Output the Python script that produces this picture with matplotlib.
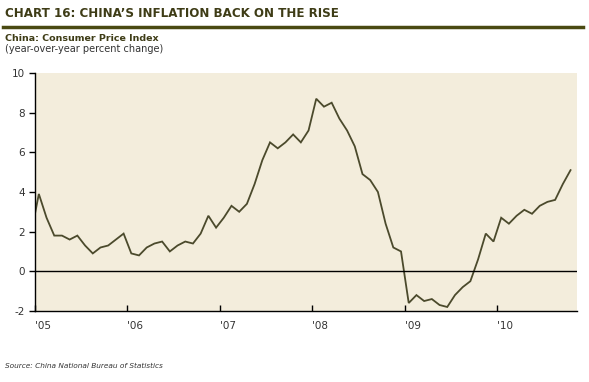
import numpy as np
import matplotlib.pyplot as plt

# China CPI, year-over-year % change, monthly Jan 2005 - Nov 2010
cpi_2005 = [1.9, 3.9, 2.7, 1.8, 1.8, 1.6, 1.8, 1.3, 0.9, 1.2, 1.3, 1.6]
cpi_2006 = [1.9, 0.9, 0.8, 1.2, 1.4, 1.5, 1.0, 1.3, 1.5, 1.4, 1.9, 2.8]
cpi_2007 = [2.2, 2.7, 3.3, 3.0, 3.4, 4.4, 5.6, 6.5, 6.2, 6.5, 6.9, 6.5]
cpi_2008 = [7.1, 8.7, 8.3, 8.5, 7.7, 7.1, 6.3, 4.9, 4.6, 4.0, 2.4, 1.2]
cpi_2009 = [1.0, -1.6, -1.2, -1.5, -1.4, -1.7, -1.8, -1.2, -0.8, -0.5, 0.6, 1.9]
cpi_2010 = [1.5, 2.7, 2.4, 2.8, 3.1, 2.9, 3.3, 3.5, 3.6, 4.4, 5.1]

years = [2005, 2006, 2007, 2008, 2009, 2010]
year_labels = ["'05", "'06", "'07", "'08", "'09", "'10"]
y_ticks = [-2, 0, 2, 4, 6, 8, 10]

cpi = np.array(cpi_2005 + cpi_2006 + cpi_2007 + cpi_2008 + cpi_2009 + cpi_2010)
t = 2005 + (np.arange(len(cpi)) - 0.5) / 12

plt.rcParams['axes.unicode_minus'] = False

olive = '#4a4a12'
fig = plt.figure(figsize=(5.89, 3.82), dpi=100)
ax = fig.add_axes([0.0594, 0.186, 0.920, 0.623])
ax.set_facecolor('#f3eddc')

ax.plot(t, cpi, color='#4b4a2c', lw=1.3, solid_joinstyle='miter')
ax.axhline(0, color='black', lw=1)

ax.set_xlim(2005, 2010.86)
ax.set_ylim(-2, 10)
ax.set_yticks(y_ticks)
ax.set_xticks(years)
ax.set_xticklabels(year_labels, ha='left')
for s in ['top', 'right']:
    ax.spines[s].set_visible(False)
ax.spines['left'].set_linewidth(1)
ax.spines['bottom'].set_linewidth(1)
ax.tick_params(axis='y', direction='out', length=4, width=1, labelsize=7.5,
               colors='black', pad=3, labelcolor='#333333')
ax.tick_params(axis='x', direction='in', length=4, width=1, labelsize=7.5,
               pad=7, labelcolor='#333333')

fig.text(0.009, 0.965, "CHART 16: CHINA\u2019S INFLATION BACK ON THE RISE",
         fontsize=8.6, fontweight='bold', color='#3e3c16', va='center')
fig.add_artist(plt.Line2D([0.005, 0.99], [0.930, 0.930], color=olive, lw=2.5,
                          transform=fig.transFigure))
fig.text(0.009, 0.900, "China: Consumer Price Index", fontsize=6.8,
         fontweight='bold', color='#3e3c16', va='center')
fig.text(0.009, 0.873, "(year-over-year percent change)", fontsize=7,
         color='#333333', va='center')
fig.text(0.009, 0.042, "Source: China National Bureau of Statistics",
         fontsize=5.3, style='italic', color='#333333', va='center')

plt.savefig('out.png', dpi=100)
